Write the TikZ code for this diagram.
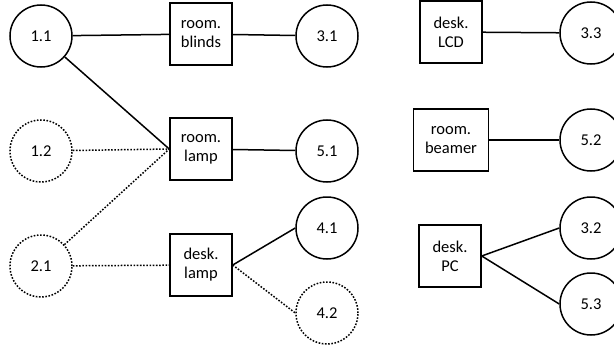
\documentclass[tikz,border=0pt]{standalone}
\usepackage{fontspec}
\setmainfont{Carlito}
\begin{document}
\begin{tikzpicture}[x=1pt,y=-1pt,
  st/.style={draw,circle,line width=1.5pt,minimum size=62pt,inner sep=0pt,font=\fontsize{16.5}{19}\selectfont},
  dst/.style={st,dash pattern=on 1.6pt off 1.6pt},
  act/.style={draw,rectangle,line width=1.5pt,minimum width=62pt,minimum height=62pt,inner sep=2pt,align=center,font=\fontsize{16.5}{19}\selectfont},
  tie/.style={line width=1.5pt},
  dtie/.style={line width=1.5pt,dash pattern=on 1.6pt off 1.6pt}]
\useasboundingbox (0,0) rectangle (614,348);
% states on the left
\node[st] (S11) at (41,36) {1.1};
\node[dst] (S12) at (41,151) {1.2};
\node[dst] (S21) at (41,266) {2.1};
% actions
\node[act] (Blinds) at (201,34) {room.\\blinds};
\node[act] (RLamp) at (201,149) {room.\\lamp};
\node[act] (DLamp) at (201,265) {desk.\\lamp};
\node[act] (LCD) at (451,32) {desk.\\LCD};
\node[act,minimum width=75pt] (Beamer) at (451,140) {room.\\beamer};
\node[act] (PC) at (450,256) {desk.\\PC};
% states on the right
\node[st] (S31) at (327,36) {3.1};
\node[st] (S51) at (327,151) {5.1};
\node[st] (S41) at (327,228) {4.1};
\node[dst] (S42) at (327,313) {4.2};
\node[st] (S33) at (591,33) {3.3};
\node[st] (S52) at (591,140) {5.2};
\node[st] (S32) at (591,228) {3.2};
\node[st] (S53) at (591,304) {5.3};
% links
\draw[tie] (S11) -- (Blinds);
\draw[tie] (Blinds) -- (S31);
\draw[tie] (S11) -- (RLamp.west);
\draw[dtie] (S12) -- (RLamp.west);
\draw[dtie] (S21) -- (RLamp.west);
\draw[tie] (RLamp) -- (S51);
\draw[dtie] (S21) -- (DLamp);
\draw[tie] (DLamp.east) -- (S41.west);
\draw[dtie] (DLamp.east) -- (S42.west);
\draw[tie] (LCD) -- (S33);
\draw[tie] (Beamer) -- (S52);
\draw[tie] (PC.east) -- (S32.west);
\draw[tie] (PC.east) -- (S53.west);
\end{tikzpicture}
\end{document}
